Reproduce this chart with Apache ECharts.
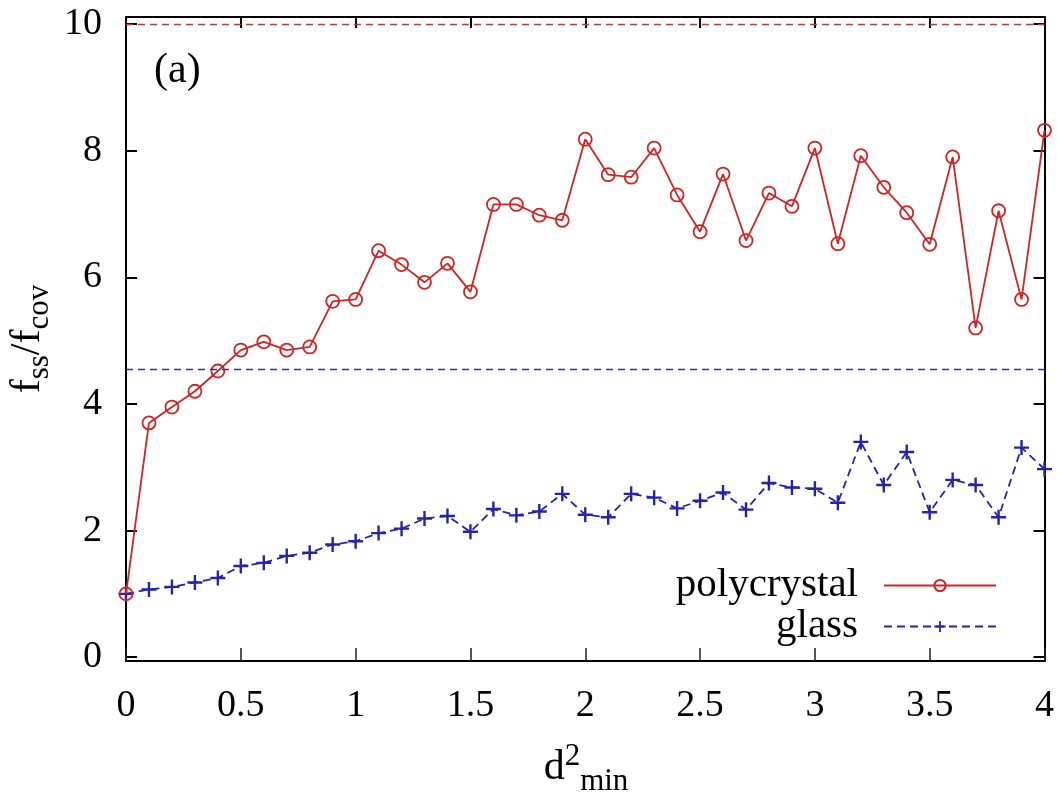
<!DOCTYPE html>
<html>
<head>
<meta charset="utf-8">
<script src="https://cdn.jsdelivr.net/npm/echarts@6/dist/echarts.min.js"></script>
<style>html,body{margin:0;padding:0;background:#fff;}#c{width:1057px;height:797px;}</style>
</head>
<body>
<div id="c"></div>
<script>
// ---- data ----
const xValues = [0.0,0.1,0.2,0.3,0.4,0.5,0.6,0.7,0.8,0.9,1.0,1.1,1.2,1.3,1.4,1.5,1.6,1.7,1.8,1.9,2.0,
                 2.1,2.2,2.3,2.4,2.5,2.6,2.7,2.8,2.9,3.0,3.1,3.2,3.3,3.4,3.5,3.6,3.7,3.8,3.9,4.0];
const polycrystal = [1.0,3.70,3.95,4.20,4.52,4.85,4.98,4.85,4.90,5.62,5.65,6.42,6.20,5.92,6.22,5.77,
                     7.15,7.15,6.98,6.90,8.18,7.62,7.58,8.04,7.30,6.72,7.63,6.58,7.33,7.12,8.04,6.53,
                     7.92,7.42,7.02,6.52,7.90,5.20,7.05,5.65,8.32];
const glass = [1.0,1.07,1.11,1.18,1.25,1.44,1.49,1.60,1.65,1.78,1.83,1.96,2.03,2.19,2.23,1.98,2.34,
               2.24,2.30,2.58,2.25,2.21,2.58,2.52,2.35,2.47,2.60,2.33,2.75,2.68,2.66,2.44,3.40,2.72,
               3.24,2.29,2.80,2.72,2.21,3.31,2.97];
const polycrystalRef = 10.0;   // red dashed horizontal level
const glassRef = 4.54;         // blue dashed horizontal level
const xTicks = [0,0.5,1,1.5,2,2.5,3,3.5,4];
const yTicks = [0,2,4,6,8,10];
const seriesNames = ['polycrystal','glass'];

// ---- chart ----
const RED = '#d42222', BLUE = '#2323b0';
const FONT = '"Liberation Serif", "Times New Roman", serif';
const pair = (xs, ys) => xs.map((x, i) => [x, ys[i]]);
const plusPath = 'path://M4.2,0H5.8V4.2H10V5.8H5.8V10H4.2V5.8H0V4.2H4.2Z';

const chart = echarts.init(document.getElementById('c'), null, {renderer: 'canvas'});
const xBase = {
  type: 'value', min: 0, max: 4, interval: 0.5,
  splitLine: {show: false},
  axisLine: {show: true, onZero: false, lineStyle: {color: '#000', width: 2}}
};
const yBase = {
  type: 'value', min: -0.06, max: 10.11,
  splitLine: {show: false},
  axisLine: {show: true, onZero: false, lineStyle: {color: '#000', width: 2}}
};
chart.setOption({
  animation: false,
  backgroundColor: '#fff',
  grid: {left: 126, right: 11, top: 17, bottom: 136, containLabel: false},
  xAxis: [
    Object.assign({}, xBase, {
      position: 'bottom',
      axisTick: {show: true, inside: true, length: 13, lineStyle: {color: '#222', width: 1.5}},
      axisLabel: {show: true, margin: 26, fontFamily: FONT, fontSize: 38, color: '#000',
                  customValues: xTicks, formatter: v => String(v)}
    }),
    Object.assign({}, xBase, {
      position: 'top',
      axisTick: {show: true, inside: true, length: 11, lineStyle: {color: '#000', width: 2}},
      axisLabel: {show: false}
    })
  ],
  yAxis: [
    Object.assign({}, yBase, {
      position: 'left',
      axisTick: {show: true, inside: true, length: 11, customValues: yTicks, lineStyle: {color: '#000', width: 2}},
      axisLabel: {show: true, margin: 24, fontFamily: FONT, fontSize: 38, color: '#000',
                  customValues: yTicks, formatter: v => String(v)}
    }),
    Object.assign({}, yBase, {
      position: 'right',
      axisTick: {show: true, inside: true, length: 11, customValues: yTicks, lineStyle: {color: '#000', width: 2}},
      axisLabel: {show: false}
    })
  ],
  legend: {
    show: true,
    orient: 'vertical',
    align: 'right',
    right: 55,
    top: 560,
    itemWidth: 112,
    itemHeight: 14,
    itemGap: 0,
    textStyle: {fontFamily: FONT, fontSize: 41, color: '#000', lineHeight: 41, padding: [0, 21, 0, 0]},
    data: seriesNames
  },
  series: [
    {
      name: seriesNames[0], type: 'line', xAxisIndex: 0, yAxisIndex: 0,
      data: pair(xValues, polycrystal),
      symbol: 'circle', symbolSize: 13, showSymbol: true,
      lineStyle: {color: RED, width: 1.8},
      itemStyle: {color: 'rgba(255,255,255,0)', borderColor: RED, borderWidth: 1.8},
      z: 3,
      markLine: {
        silent: true, symbol: 'none', label: {show: false},
        lineStyle: {color: '#c03a3a', type: [7, 5], width: 1.3},
        data: [{yAxis: polycrystalRef}]
      }
    },
    {
      name: seriesNames[1], type: 'line', xAxisIndex: 0, yAxisIndex: 0,
      data: pair(xValues, glass),
      symbol: plusPath, symbolSize: 15, showSymbol: true,
      lineStyle: {color: BLUE, width: 1.8, type: [8, 5]},
      itemStyle: {color: BLUE},
      z: 2,
      markLine: {
        silent: true, symbol: 'none', label: {show: false},
        lineStyle: {color: '#2a2ac8', type: [7, 5], width: 1.3},
        data: [{yAxis: glassRef}]
      }
    }
  ],
  graphic: [
    {
      type: 'text', left: 154, top: 50,
      style: {text: '(a)', font: '42px ' + FONT, fill: '#000'}
    },
    {
      type: 'text', x: 586, y: 768,
      style: {
        text: '{m|d}{sup|2}{sub|min}',
        align: 'center', verticalAlign: 'middle',
        rich: {
          m: {fontFamily: FONT, fontSize: 42, lineHeight: 42, fill: '#000'},
          sup: {fontFamily: FONT, fontSize: 31, lineHeight: 31, padding: [0, 0, 22, 0], fill: '#000'},
          sub: {fontFamily: FONT, fontSize: 31, lineHeight: 31, padding: [28, 0, 0, 0], fill: '#000'}
        }
      }
    },
    {
      type: 'text', x: 28, y: 339, rotation: Math.PI / 2,
      style: {
        text: '{m|f}{sub|ss}{m|/f}{sub|cov}',
        align: 'center', verticalAlign: 'middle',
        rich: {
          m: {fontFamily: FONT, fontSize: 42, lineHeight: 42, fill: '#000'},
          sub: {fontFamily: FONT, fontSize: 31, lineHeight: 31, padding: [24, 0, 0, 0], fill: '#000'}
        }
      }
    }
  ]
});
</script>
</body>
</html>
